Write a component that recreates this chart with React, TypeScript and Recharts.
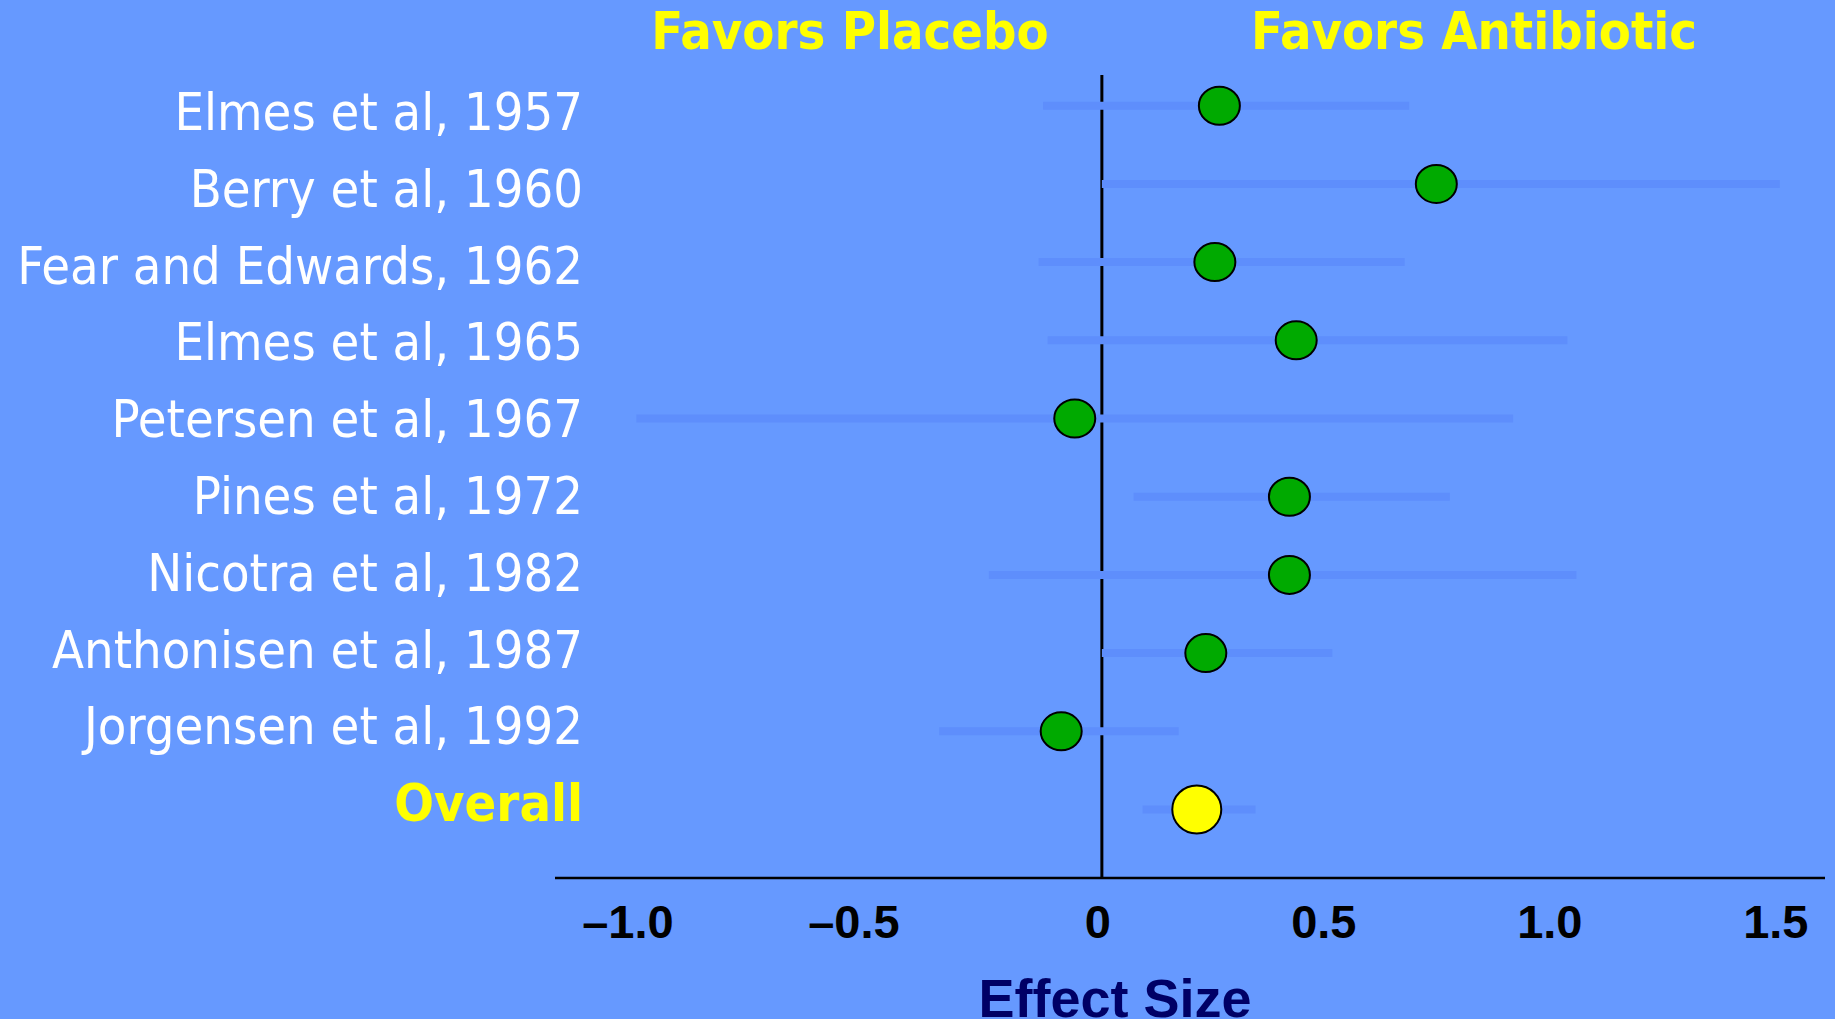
import React from "react";
import {
  ScatterChart,
  Scatter,
  XAxis,
  YAxis,
  ErrorBar,
  ReferenceLine,
} from "recharts";

const studies = [
  "Elmes et al, 1957",
  "Berry et al, 1960",
  "Fear and Edwards, 1962",
  "Elmes et al, 1965",
  "Petersen et al, 1967",
  "Pines et al, 1972",
  "Nicotra et al, 1982",
  "Anthonisen et al, 1987",
  "Jorgensen et al, 1992",
  "Overall",
];
const effects = [0.26, 0.74, 0.25, 0.43, -0.06, 0.415, 0.415, 0.23, -0.09, 0.21];
const ciLow = [-0.13, 0.0, -0.14, -0.12, -1.03, 0.07, -0.25, 0.0, -0.36, 0.09];
const ciHigh = [0.68, 1.5, 0.67, 1.03, 0.91, 0.77, 1.05, 0.51, 0.17, 0.34];
const rowTicks = [1, 2, 3, 4, 5, 6, 7, 8, 9, 10];
const xTicks = [-1, -0.5, 0, 0.5, 1, 1.5];
const xTickLabels = ["\u20131.0", "\u20130.5", "0", "0.5", "1.0", "1.5"];

const BG = "#6699FF";
const CI_COLOR = "#5E8EFC";
const LABEL_FONT = "'DejaVu Sans', 'Liberation Sans', sans-serif";
const BOLD_FONT = "'Liberation Sans', Arial, sans-serif";

const rows = studies.map((name, i) => ({
  row: i + 1,
  name,
  es: effects[i],
  err: [effects[i] - ciLow[i], ciHigh[i] - effects[i]],
}));
const trialRows = rows.slice(0, 9);
const overallRow = rows.slice(9);

function StudyTick(props: any) {
  const { x, y, payload } = props;
  const name = studies[payload.value - 1];
  const isOverall = name === "Overall";
  return (
    <text
      x={x + 30}
      y={y}
      dy={23}
      textAnchor="end"
      fill={isOverall ? "#FFFF00" : "#FFFFFF"}
      fontFamily={LABEL_FONT}
      fontWeight={isOverall ? "bold" : "normal"}
      fontSize={52}
      style={{ fontStretch: "condensed" }}
    >
      {name}
    </text>
  );
}

function EffectTick(props: any) {
  const { x, y, payload } = props;
  const idx = xTicks.indexOf(payload.value);
  return (
    <text
      x={x + (payload.value < 0 ? -22 : -4)}
      y={y}
      dy={58}
      textAnchor="middle"
      fill="#000000"
      fontFamily={BOLD_FONT}
      fontWeight="bold"
      fontSize={47}
    >
      {xTickLabels[idx]}
    </text>
  );
}

function Dot(props: any) {
  const { cx, cy } = props;
  return <ellipse cx={cx} cy={cy} rx={20.5} ry={19} fill="#00AA00" stroke="#000" strokeWidth={2} />;
}

function BigDot(props: any) {
  const { cx, cy } = props;
  return <ellipse cx={cx} cy={cy} rx={24.5} ry={24} fill="#FFFF00" stroke="#000" strokeWidth={2} />;
}

export default function App() {
  return (
    <div style={{ position: "relative", width: 1835, height: 1019, background: BG, overflow: "hidden" }}>
      <style>{"body{margin:0;background:" + BG + "}"}</style>
      <ScatterChart width={1835} height={1019} margin={{ top: 75, right: 10, bottom: 0, left: 0 }}>
        <XAxis
          type="number"
          dataKey="es"
          domain={[-1.21, 1.6]}
          ticks={xTicks}
          allowDataOverflow
          height={141}
          tick={<EffectTick />}
          tickLine={false}
          tickSize={0}
          axisLine={{ stroke: "#000", strokeWidth: 2.5 }}
        />
        <YAxis
          yAxisId="rows"
          type="number"
          dataKey="row"
          domain={[0.607, 10.876]}
          reversed
          allowDataOverflow
          hide
        />
        <YAxis
          yAxisId="labels"
          type="number"
          domain={[0.583, 11.039]}
          ticks={rowTicks}
          reversed
          allowDataOverflow
          width={555}
          tick={<StudyTick />}
          tickLine={false}
          tickSize={0}
          axisLine={false}
          interval={0}
        />
        <ReferenceLine yAxisId="rows" x={0} stroke="#000" strokeWidth={3} />
        <Scatter yAxisId="rows" data={trialRows} shape={<Dot />} isAnimationActive={false}>
          <ErrorBar dataKey="err" direction="x" width={0} stroke={CI_COLOR} strokeWidth={8} isAnimationActive={false} />
        </Scatter>
        <Scatter yAxisId="rows" data={overallRow} shape={<BigDot />} isAnimationActive={false}>
          <ErrorBar dataKey="err" direction="x" width={0} stroke={CI_COLOR} strokeWidth={8} isAnimationActive={false} />
        </Scatter>
      </ScatterChart>
      <svg width={1835} height={1019} style={{ position: "absolute", left: 0, top: 0, pointerEvents: "none" }}>
        <text x={850} y={49} textAnchor="middle" fill="#FFFF00" fontFamily={LABEL_FONT} fontWeight="bold" fontSize={52} style={{ fontStretch: "condensed" }}>
          Favors Placebo
        </text>
        <text x={1474} y={49} textAnchor="middle" fill="#FFFF00" fontFamily={LABEL_FONT} fontWeight="bold" fontSize={52} style={{ fontStretch: "condensed" }}>
          Favors Antibiotic
        </text>
        <text x={1115} y={1017} textAnchor="middle" fill="#000066" fontFamily={BOLD_FONT} fontWeight="bold" fontSize={54}>
          Effect Size
        </text>
      </svg>
    </div>
  );
}
